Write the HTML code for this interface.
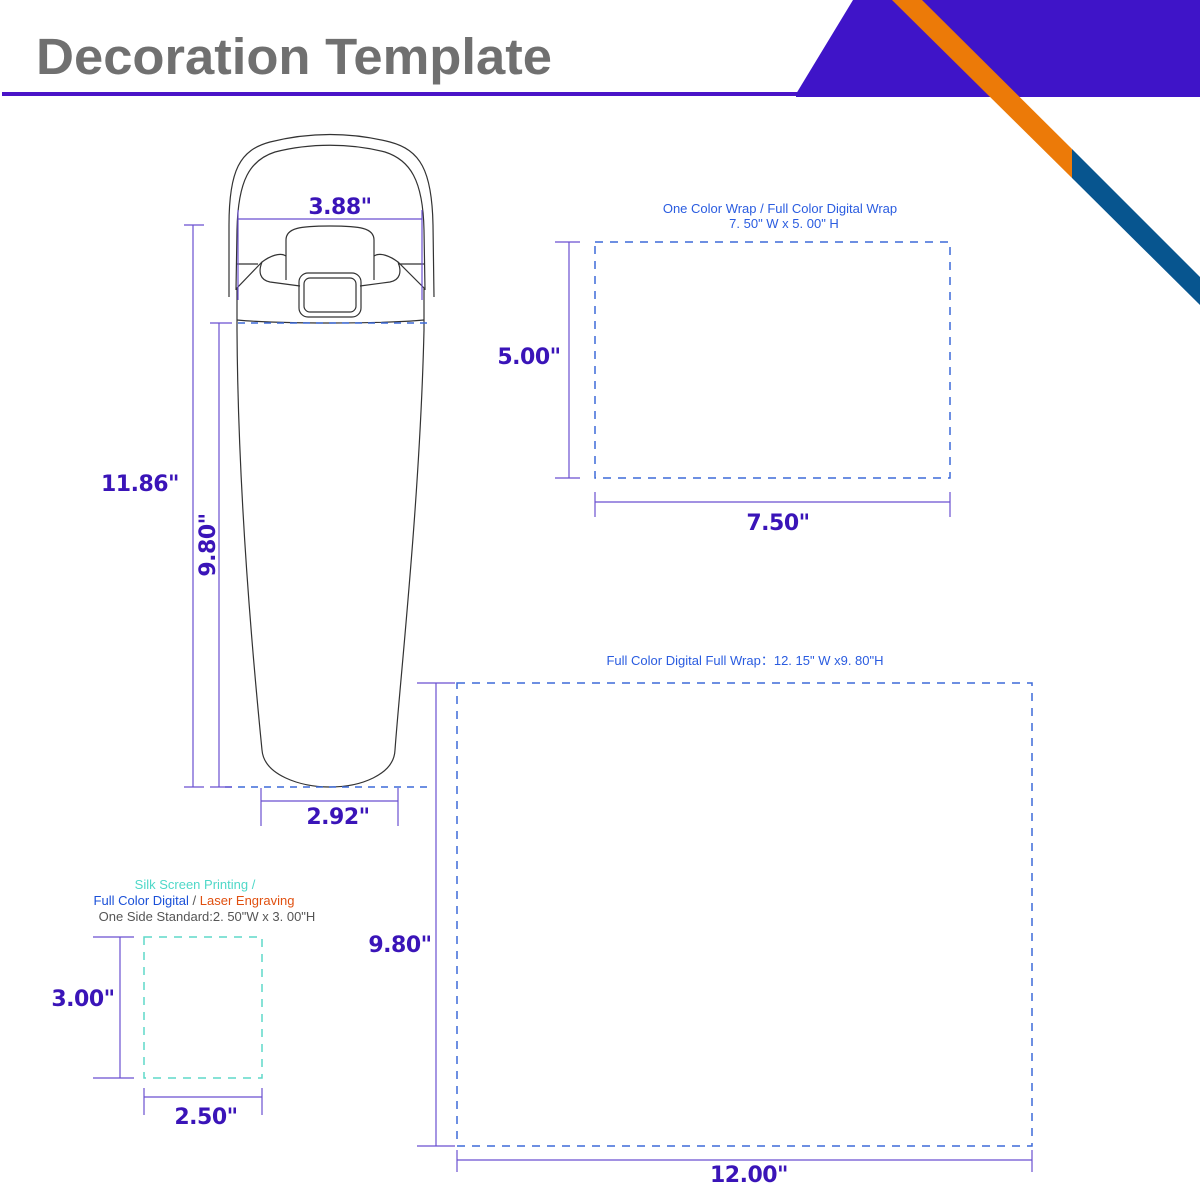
<!DOCTYPE html>
<html><head><meta charset="utf-8"><style>
html,body{margin:0;padding:0;background:#fff;}
svg{display:block;}
.d{font-family:"DejaVu Sans","Liberation Sans",sans-serif;font-weight:bold;fill:#3a14b8;font-size:22px;letter-spacing:-0.5px;}
.l{font-family:"Liberation Sans",sans-serif;font-size:13px;}
</style></head><body>
<svg width="1200" height="1200" viewBox="0 0 1200 1200" xmlns="http://www.w3.org/2000/svg">
<text x="36" y="74" font-family="Liberation Sans, sans-serif" font-weight="bold" font-size="51" fill="#707070" textLength="516" lengthAdjust="spacingAndGlyphs">Decoration Template</text>
<rect x="2" y="92" width="800" height="4" fill="#4a14c8"/>
<polygon points="796,94 853,0 1200,0 1200,97 796,97" fill="#3f14c8"/>
<polygon points="892,0 922,0 1072,149 1072,178" fill="#ec7a08"/>
<polygon points="1072,149 1200,277 1200,305 1072,178" fill="#07558f"/>

<g fill="none" stroke="#333" stroke-width="1.2">
<path d="M229,297 L229,225 C229,170 240,150 270,142 C310,132 350,132 390,142 C420,150 432,170 433,225 L434,297"/>
<path d="M236,290 L237,230 C238,180 250,160 275,152 C310,143 350,143 385,152 C410,160 423,180 424,230 L425,290"/>
<path d="M236,264 L258,264 M398,264 L425,264"/>
<path d="M237,295 L237,288 L262,262 C270,256 280,252 286,256 M424,295 L424,288 L398,262 C390,256 380,252 374,256"/>
<path d="M286,280 L286,240 C286,228 300,226 330,226 C360,226 374,228 374,240 L374,280"/>
<path d="M262,262 C258,272 260,280 270,282 L300,286 M398,262 C402,272 400,280 390,282 L360,286"/>
<rect x="299" y="273" width="62" height="44" rx="9"/>
<rect x="304" y="278" width="52" height="34" rx="6"/>
<path d="M237,295 L237,330 C238,500 255,680 262,750 C264,775 300,787 330,787 C360,787 394,775 395,750 C400,680 420,500 424,330 L424,295"/>
<path d="M237,320 C280,324 380,324 424,320"/>
</g>
<g stroke="#3d6ad8" stroke-width="1.6" stroke-dasharray="7,6" fill="none">
<line x1="238" y1="323" x2="430" y2="323"/>
<line x1="225" y1="787" x2="430" y2="787"/>
</g>

<g stroke="#6a4fd0" stroke-width="1.2" fill="none">
<line x1="238" y1="219" x2="422" y2="219"/>
<line x1="238" y1="210" x2="238" y2="300"/><line x1="422" y1="210" x2="422" y2="300"/>
<line x1="193" y1="225" x2="193" y2="787"/><line x1="184" y1="225" x2="204" y2="225"/><line x1="184" y1="787" x2="204" y2="787"/>
<line x1="219" y1="323" x2="219" y2="787"/><line x1="210" y1="323" x2="232" y2="323"/><line x1="210" y1="787" x2="232" y2="787"/>
<line x1="261" y1="788" x2="261" y2="826"/><line x1="398" y1="788" x2="398" y2="826"/><line x1="261" y1="801" x2="398" y2="801"/>
<line x1="569" y1="242" x2="569" y2="478"/><line x1="555" y1="242" x2="580" y2="242"/><line x1="555" y1="478" x2="580" y2="478"/>
<line x1="595" y1="492" x2="595" y2="517"/><line x1="950" y1="492" x2="950" y2="517"/><line x1="595" y1="502" x2="950" y2="502"/>
<line x1="436" y1="683" x2="436" y2="1146"/><line x1="417" y1="683" x2="455" y2="683"/><line x1="417" y1="1146" x2="455" y2="1146"/>
<line x1="457" y1="1150" x2="457" y2="1172"/><line x1="1032" y1="1150" x2="1032" y2="1172"/><line x1="457" y1="1160" x2="1032" y2="1160"/>
<line x1="120" y1="937" x2="120" y2="1078"/><line x1="93" y1="937" x2="134" y2="937"/><line x1="93" y1="1078" x2="134" y2="1078"/>
<line x1="144" y1="1088" x2="144" y2="1115"/><line x1="262" y1="1088" x2="262" y2="1115"/><line x1="144" y1="1097" x2="262" y2="1097"/>
</g>

<g fill="none" stroke-width="1.5" stroke-dasharray="8,7">
<rect x="595" y="242" width="355" height="236" stroke="#3d6ad8"/>
<rect x="457" y="683" width="575" height="463" stroke="#3d6ad8"/>
<rect x="144" y="937" width="118" height="141" stroke="#5ed8c8"/>
</g>

<text class="d" x="340" y="214" text-anchor="middle">3.88"</text>
<text class="d" x="140" y="491" text-anchor="middle">11.86"</text>
<text class="d" transform="translate(215,545) rotate(-90)" text-anchor="middle">9.80"</text>
<text class="d" x="338" y="824" text-anchor="middle">2.92"</text>
<text class="d" x="529" y="364" text-anchor="middle">5.00"</text>
<text class="d" x="778" y="530" text-anchor="middle">7.50"</text>
<text class="d" x="400" y="952" text-anchor="middle">9.80"</text>
<text class="d" x="749" y="1182" text-anchor="middle">12.00"</text>
<text class="d" x="83" y="1006" text-anchor="middle">3.00"</text>
<text class="d" x="206" y="1124" text-anchor="middle">2.50"</text>

<text class="l" x="780" y="213" text-anchor="middle" fill="#2a5ce0">One Color Wrap / Full Color Digital Wrap</text>
<text class="l" x="784" y="228" text-anchor="middle" fill="#2a5ce0">7. 50" W x 5. 00" H</text>
<text class="l" x="745" y="665" text-anchor="middle" fill="#2a5ce0">Full Color Digital Full Wrap：12. 15" W x9. 80"H</text>
<text class="l" x="195" y="889" text-anchor="middle" fill="#4fd8c8">Silk Screen Printing /</text>
<text class="l" x="194" y="905" text-anchor="middle"><tspan fill="#1a50d8">Full Color Digital</tspan><tspan fill="#555"> / </tspan><tspan fill="#e05010">Laser Engraving</tspan></text>
<text class="l" x="207" y="921" text-anchor="middle" fill="#555">One Side Standard:2. 50"W x 3. 00"H</text>
</svg>
</body></html>
